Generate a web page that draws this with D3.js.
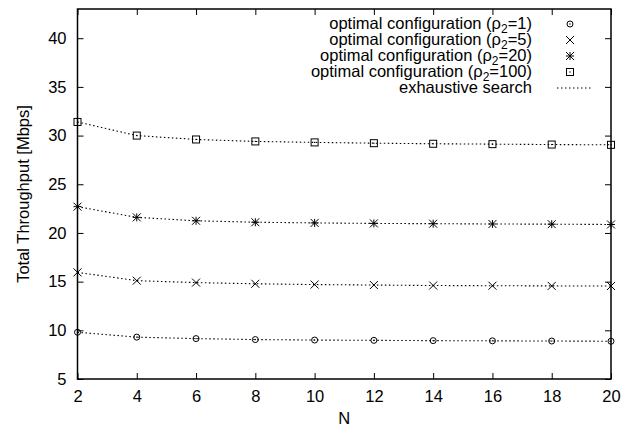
<!DOCTYPE html>
<html>
<head>
<meta charset="utf-8">
<script src="https://cdn.jsdelivr.net/npm/d3@7"></script>
<style>
  body { margin: 0; background: #fff; }
  text { font-family: "Liberation Sans", Arial, sans-serif; fill: #000; }
</style>
</head>
<body>
<svg id="chart" width="623" height="428"></svg>
<script>
// data
const nValues = [2, 4, 6, 8, 10, 12, 14, 16, 18, 20];
const rho1 = [9.8, 9.3, 9.15, 9.05, 9.0, 8.97, 8.94, 8.92, 8.9, 8.88];
const rho5 = [15.95, 15.1, 14.9, 14.78, 14.7, 14.65, 14.6, 14.58, 14.56, 14.55];
const rho20 = [22.7, 21.6, 21.25, 21.1, 21.03, 20.98, 20.95, 20.92, 20.9, 20.87];
const rho100 = [31.4, 30.0, 29.6, 29.4, 29.3, 29.22, 29.16, 29.12, 29.08, 29.05];
const rhoLabels = ["1", "5", "20", "100"];
const xTicks = [2, 4, 6, 8, 10, 12, 14, 16, 18, 20];
const yTicks = [5, 10, 15, 20, 25, 30, 35, 40];

const series = [
  { rho: rhoLabels[0], values: rho1, marker: "circle" },
  { rho: rhoLabels[1], values: rho5, marker: "cross" },
  { rho: rhoLabels[2], values: rho20, marker: "star" },
  { rho: rhoLabels[3], values: rho100, marker: "square" }
];

const svg = d3.select("#chart");
const plotLeft = 77.5, plotRight = 611, plotTop = 9, plotBottom = 379;
const fontSize = "16.5px";

const x = d3.scaleLinear().domain([2, 20]).range([plotLeft, plotRight]);
const y = d3.scaleLinear().domain([5, 43]).range([plotBottom, plotTop]);

// draws one gnuplot style point marker
function drawMarker(g, type, cx, cy) {
  const s = 4;
  if (type === "circle") {
    g.append("circle").attr("cx", cx).attr("cy", cy).attr("r", 3)
      .attr("fill", "none").attr("stroke", "#000").attr("stroke-width", 1);
  } else if (type === "square") {
    g.append("rect").attr("x", cx - 3.5).attr("y", cy - 3.5).attr("width", 7).attr("height", 7)
      .attr("fill", "none").attr("stroke", "#000").attr("stroke-width", 1);
  } else {
    g.append("path")
      .attr("d", `M${cx - s},${cy - s}L${cx + s},${cy + s}M${cx - s},${cy + s}L${cx + s},${cy - s}`)
      .attr("stroke", "#000").attr("stroke-width", 1);
    if (type === "star") {
      g.append("path")
        .attr("d", `M${cx - s},${cy}L${cx + s},${cy}M${cx},${cy - s}L${cx},${cy + s}`)
        .attr("stroke", "#000").attr("stroke-width", 1);
    }
  }
  g.append("rect").attr("x", cx - 0.6).attr("y", cy - 0.6).attr("width", 1.2).attr("height", 1.2).attr("fill", "#000");
}

// axes with inward ticks, mirrored on top and right
const tickLen = 6;
const axisBottom = d3.axisBottom(x).tickValues(xTicks).tickSize(-tickLen).tickPadding(11);
const axisTop = d3.axisTop(x).tickValues(xTicks).tickSize(-tickLen).tickFormat("");
const axisLeft = d3.axisLeft(y).tickValues(yTicks).tickSize(-tickLen).tickPadding(11);
const axisRight = d3.axisRight(y).tickValues(yTicks).tickSize(-tickLen).tickFormat("");

function styleAxis(g) {
  g.select(".domain").remove();
  g.selectAll(".tick line").attr("stroke", "#000").attr("stroke-width", 1);
  g.selectAll(".tick text").style("font-size", fontSize).attr("fill", "#000")
    .style("font-family", "'Liberation Sans', Arial, sans-serif");
}

svg.append("g").attr("transform", `translate(0,${plotBottom})`).call(axisBottom).call(styleAxis);
svg.append("g").attr("transform", `translate(0,${plotTop})`).call(axisTop).call(styleAxis);
svg.append("g").attr("transform", `translate(${plotLeft},0)`).call(axisLeft).call(styleAxis);
svg.append("g").attr("transform", `translate(${plotRight},0)`).call(axisRight).call(styleAxis);

// lines (exhaustive search) + markers
const line = d3.line().x((d, i) => x(nValues[i])).y(d => y(d));
series.forEach(s => {
  svg.append("path").datum(s.values).attr("d", line)
    .attr("fill", "none").attr("stroke", "#000").attr("stroke-width", 1.1)
    .attr("stroke-dasharray", "1.5,2.5");
});
series.forEach(s => {
  const g = svg.append("g");
  s.values.forEach((v, i) => drawMarker(g, s.marker, x(nValues[i]), y(v)));
});

// border
svg.append("rect").attr("x", plotLeft).attr("y", plotTop)
  .attr("width", plotRight - plotLeft).attr("height", plotBottom - plotTop)
  .attr("fill", "none").attr("stroke", "#000").attr("stroke-width", 1.5);

// legend
const legX = 532, legY = 24, legStep = 16;
series.forEach((s, i) => {
  const t = svg.append("text").attr("x", legX).attr("y", legY + i * legStep + 5)
    .attr("text-anchor", "end").style("font-size", fontSize);
  t.append("tspan").text("optimal configuration (ρ");
  t.append("tspan").attr("dy", 4).style("font-size", "12px").text("2");
  t.append("tspan").attr("dy", -4).text("=" + s.rho + ")");
  drawMarker(svg.append("g"), s.marker, 570, legY + i * legStep);
});
const exY = legY + 4 * legStep;
svg.append("text").attr("x", legX).attr("y", exY + 5).attr("text-anchor", "end")
  .style("font-size", fontSize).text("exhaustive search");
svg.append("line").attr("x1", 557).attr("x2", 591).attr("y1", exY).attr("y2", exY)
  .attr("stroke", "#000").attr("stroke-width", 1.1).attr("stroke-dasharray", "1.5,2.5");

// axis titles
svg.append("text").attr("x", (plotLeft + plotRight) / 2).attr("y", 424).attr("text-anchor", "middle")
  .style("font-size", fontSize).text("N");
svg.append("text").attr("transform", `translate(29,${(plotTop + plotBottom) / 2}) rotate(-90)`)
  .attr("text-anchor", "middle").style("font-size", fontSize).text("Total Throughput [Mbps]");
</script>
</body>
</html>
